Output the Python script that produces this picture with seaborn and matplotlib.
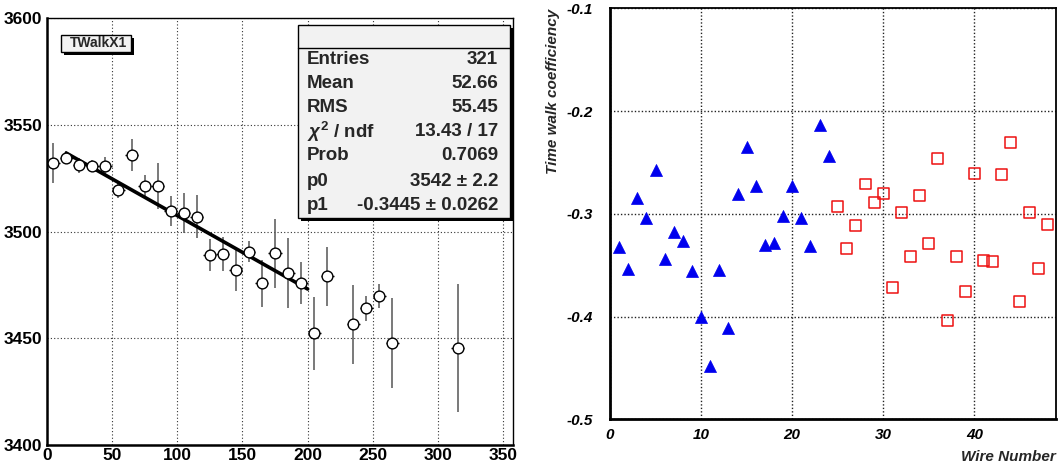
import numpy as np
import pandas as pd
import matplotlib
matplotlib.use("Agg")
import matplotlib.pyplot as plt
from matplotlib.patches import Rectangle
from matplotlib.ticker import MultipleLocator
import seaborn as sns

# ---- TWalkX1 profile: bin centres, mean values and errors ----
bin_x = [5, 15, 25, 35, 45, 55, 65, 75, 85, 95, 105, 115, 125, 135,
         145, 155, 165, 175, 185, 195, 205, 215, 235, 245, 255, 265, 315]
bin_y = [3532, 3534.7, 3531.2, 3530.8, 3531, 3519.5, 3536, 3521.6, 3521.6,
         3509.7, 3508.6, 3507, 3489, 3489.5, 3482, 3490.6, 3475.8, 3489.8,
         3480.5, 3476, 3452.3, 3479, 3456.7, 3464, 3469.8, 3447.7, 3445.6]
bin_err = [9.4, 3, 3.5, 3, 4, 3.5, 7.4, 5, 10.8, 7, 9.4, 10, 7.6, 8,
           10, 5, 11, 16, 16.4, 9.7, 17, 14, 18.5, 6, 5.5, 21, 30]
bin_half_width = 5

# linear fit results
fit_p0 = 3542
fit_p1 = -0.3445
fit_range = [15, 200]

left_xticks = [0, 50, 100, 150, 200, 250, 300, 350]
left_yticks = [3400, 3450, 3500, 3550, 3600]

stats_names = ["Entries", "Mean", "RMS", r"$\chi^{2}$ / ndf", "Prob", "p0", "p1"]
stats_values = ["321", "52.66", "55.45", "13.43 / 17", "0.7069",
                "3542 \u00b1 2.2", "-0.3445 \u00b1 0.0262"]

# ---- time walk coefficient per wire ----
wires_a = list(range(1, 25))
coef_a = [-0.332, -0.354, -0.285, -0.304, -0.257, -0.344, -0.318, -0.326,
          -0.356, -0.400, -0.448, -0.355, -0.411, -0.281, -0.235, -0.273,
          -0.330, -0.328, -0.302, -0.273, -0.304, -0.331, -0.2135, -0.244]
wires_b = list(range(25, 49))
coef_b = [-0.293, -0.3335, -0.3115, -0.271, -0.289, -0.280, -0.372, -0.299,
          -0.3415, -0.282, -0.329, -0.2465, -0.404, -0.3415, -0.376, -0.2605,
          -0.345, -0.346, -0.262, -0.2307, -0.3855, -0.2985, -0.353, -0.310]

right_xticks = [0, 10, 20, 30, 40]
right_yticks = [-0.5, -0.4, -0.3, -0.2, -0.1]
right_yticklabels = ["-0.5", "-0.4", "-0.3", "-0.2", "-0.1"]

sns.set_style("white")
plt.rcParams["font.family"] = ["Liberation Sans", "DejaVu Sans"]
plt.rcParams["mathtext.fontset"] = "custom"
plt.rcParams["mathtext.rm"] = "Liberation Sans:bold"
plt.rcParams["mathtext.it"] = "Liberation Sans:italic:bold"

W, H = 1060, 472
fig = plt.figure(figsize=(W / 100, H / 100), dpi=100)
fig.patch.set_facecolor("white")

def fx(px):
    return px / W

def fy(py):
    return 1 - py / H

# ================= left panel =================
axL = fig.add_axes([fx(46.7), fy(445), fx(513 - 46.7), (445 - 18.3) / H])
axL.set_xlim(0, 357.4)
axL.set_ylim(3400, 3600)

prof = pd.DataFrame({"x": bin_x, "y": bin_y, "err": bin_err})
axL.errorbar(prof["x"], prof["y"], yerr=prof["err"], fmt="none",
             ecolor="#555555", elinewidth=1.1, zorder=3)
axL.errorbar(prof["x"], prof["y"], xerr=bin_half_width, fmt="none",
             ecolor="black", elinewidth=1.0, zorder=3)

fit_x = np.linspace(fit_range[0], fit_range[1], 50)
fit_df = pd.DataFrame({"x": fit_x, "y": fit_p0 + fit_p1 * fit_x})
sns.lineplot(data=fit_df, x="x", y="y", ax=axL, color="black", linewidth=2.6, zorder=4)

sns.scatterplot(data=prof, x="x", y="y", ax=axL, marker="o", s=60,
                facecolor="white", edgecolor="black", linewidth=1.0, zorder=5)

axL.set_xlabel("")
axL.set_ylabel("")
axL.set_xticks(left_xticks)
axL.set_xticklabels([str(t) for t in left_xticks], fontsize=12.5, fontweight="bold")
axL.set_yticks(left_yticks)
axL.set_yticklabels([str(t) for t in left_yticks], fontsize=12.5, fontweight="bold")
axL.xaxis.set_minor_locator(MultipleLocator(10))
axL.yaxis.set_minor_locator(MultipleLocator(10))
axL.tick_params(axis="both", which="major", direction="in", length=12, width=1,
                colors="black")
axL.tick_params(axis="both", which="minor", direction="in", length=6, width=1)
axL.tick_params(axis="x", pad=2)
axL.tick_params(axis="y", pad=3)
axL.grid(True, which="major", linestyle=(0, (1, 2)), color="#333333", linewidth=0.8)
for side, sp in axL.spines.items():
    sp.set_color("black")
    sp.set_linewidth(1.0)
axL.spines["left"].set_linewidth(1.8)
axL.spines["bottom"].set_linewidth(1.8)

# title box
tx0, tx1, ty0, ty1 = 60.7, 130.7, 35, 51.7
fig.patches.append(Rectangle((fx(tx0 + 3), fy(ty1 + 3)), fx(tx1 - tx0), (ty1 - ty0) / H,
                             transform=fig.transFigure, facecolor="black",
                             edgecolor="none", zorder=10))
fig.patches.append(Rectangle((fx(tx0), fy(ty1)), fx(tx1 - tx0), (ty1 - ty0) / H,
                             transform=fig.transFigure, facecolor="#f2f2f2",
                             edgecolor="black", linewidth=1.0, zorder=11))
fig.text(fx(127), fy((ty0 + ty1) / 2), "TWalkX1", ha="right", va="center",
         fontsize=10, fontweight="bold", zorder=12)

# statistics box
sx0, sx1, sy0, sy1, shead = 298, 510, 25, 218, 48
fig.patches.append(Rectangle((fx(sx0 + 3), fy(sy1 + 3)), fx(sx1 - sx0), (sy1 - sy0) / H,
                             transform=fig.transFigure, facecolor="black",
                             edgecolor="none", zorder=10))
fig.patches.append(Rectangle((fx(sx0), fy(sy1)), fx(sx1 - sx0), (sy1 - sy0) / H,
                             transform=fig.transFigure, facecolor="#f2f2f2",
                             edgecolor="black", linewidth=1.0, zorder=11))
fig.lines.append(plt.Line2D([fx(sx0), fx(sx1)], [fy(shead), fy(shead)],
                            transform=fig.transFigure, color="black",
                            linewidth=1.0, zorder=12))
row_y = [59, 84, 108, 132, 155, 181, 205]
for name, val, ry in zip(stats_names, stats_values, row_y):
    fig.text(fx(307), fy(ry), name, ha="left", va="center", fontsize=13.5,
             fontweight="bold", zorder=12)
    fig.text(fx(498), fy(ry), val, ha="right", va="center", fontsize=13.5,
             fontweight="bold", zorder=12)

# ================= right panel =================
axR = fig.add_axes([fx(610), fy(419.3), fx(1056 - 610), (419.3 - 8.3) / H])
axR.set_xlim(0, 48.96)
axR.set_ylim(-0.5, -0.1)

dfa = pd.DataFrame({"wire": wires_a, "coef": coef_a})
dfb = pd.DataFrame({"wire": wires_b, "coef": coef_b})
sns.scatterplot(data=dfa, x="wire", y="coef", ax=axR, marker="^", s=75,
                color="#0000ee", edgecolor="#0000ee", linewidth=0.5, zorder=5)
sns.scatterplot(data=dfb, x="wire", y="coef", ax=axR, marker="s", s=62,
                facecolor="none", edgecolor="#ee1111", linewidth=1.1, zorder=5)

axR.set_xticks(right_xticks)
axR.set_xticklabels([str(t) for t in right_xticks], fontsize=11,
                    fontweight="bold", fontstyle="italic")
axR.set_yticks(right_yticks)
axR.set_yticklabels(right_yticklabels, fontsize=11,
                    fontweight="bold", fontstyle="italic")
axR.tick_params(axis="both", which="major", direction="in", length=11, width=1.5,
                colors="black")
axR.tick_params(axis="y", pad=12)
axR.tick_params(axis="x", pad=6)
axR.grid(True, which="major", linestyle=(0, (1, 1.5)), color="#222222", linewidth=1.0)
for side, sp in axR.spines.items():
    sp.set_color("black")
    sp.set_linewidth(1.3)
axR.spines["left"].set_linewidth(2.0)
axR.spines["bottom"].set_linewidth(2.0)

axR.set_xlabel("Wire Number", fontsize=11, fontweight="bold", fontstyle="italic")
axR.xaxis.set_label_coords(1.0, -0.092)
axR.xaxis.label.set_horizontalalignment("right")
axR.xaxis.label.set_verticalalignment("center")
axR.set_ylabel("Time walk coefficiency", fontsize=11, fontweight="bold",
               fontstyle="italic")
axR.yaxis.set_label_coords(-0.127, 1.0)
axR.yaxis.label.set_horizontalalignment("right")
axR.yaxis.label.set_verticalalignment("center")

fig.savefig("out.png", dpi=100, facecolor="white")
